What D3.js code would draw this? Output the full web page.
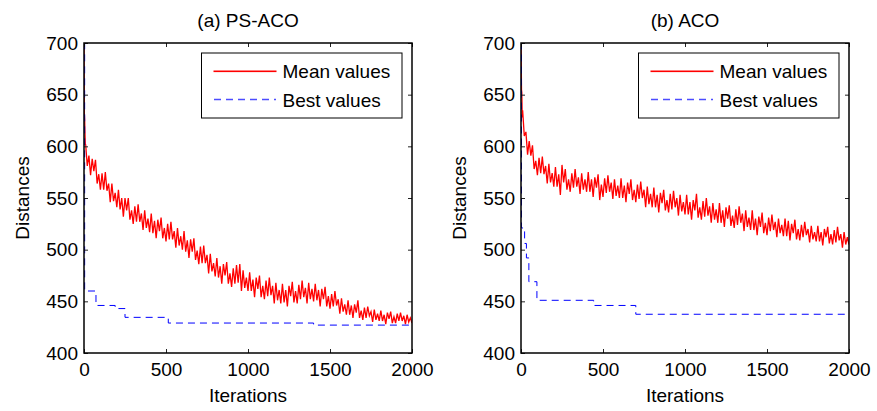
<!DOCTYPE html>
<html>
<head>
<meta charset="utf-8">
<script src="https://cdn.jsdelivr.net/npm/d3@7"></script>
<style>
  body { margin: 0; background: #fff; }
  svg { display: block; }
</style>
</head>
<body>
<script>
// Data

var xTicks = [0, 500, 1000, 1500, 2000];
var yTicks = [400, 450, 500, 550, 600, 650, 700];
var meanStep = 10; // mean values are listed every 10 iterations, from 10 to 2000

// (a) PS-ACO
var headItersA = [0, 1, 2, 4, 6, 8];
var headMeanA = [700, 662, 632, 626, 612, 601];
var meanA = [
  602, 581, 591, 572, 588, 576, 587, 564, 573, 558,
  574, 558, 575, 557, 564, 546, 564, 547, 555, 541,
  558, 539, 550, 532, 550, 538, 550, 529, 538, 525,
  542, 527, 544, 527, 535, 519, 538, 521, 530, 517,
  535, 516, 528, 511, 529, 518, 531, 511, 521, 508,
  525, 510, 527, 510, 518, 502, 521, 504, 513, 500,
  518, 498, 509, 492, 510, 498, 511, 490, 499, 486,
  503, 487, 504, 487, 495, 477, 496, 479, 487, 474,
  492, 473, 484, 467, 486, 475, 488, 467, 477, 464,
  482, 467, 485, 468, 486, 460, 480, 463, 473, 460,
  478, 460, 471, 454, 473, 462, 475, 454, 465, 452,
  470, 455, 473, 456, 465, 448, 468, 451, 461, 448,
  467, 449, 461, 445, 465, 455, 469, 449, 460, 448,
  466, 452, 470, 454, 463, 448, 468, 452, 462, 450,
  467, 451, 461, 445, 462, 452, 464, 445, 455, 443,
  457, 445, 460, 446, 452, 438, 453, 440, 447, 437,
  451, 437, 446, 434, 447, 439, 451, 434, 441, 432,
  444, 434, 445, 436, 440, 430, 442, 432, 438, 431,
  441, 431, 437, 428, 439, 433, 440, 429, 435, 429,
  438, 431, 439, 431, 436, 428, 437, 430, 434, 429
];
var bestItersA = [0, 4, 73, 190, 250, 514, 1400, 2000];
var bestA = [700, 460, 446, 443, 434.5, 429, 427, 427];

// (b) ACO
var headItersB = [0, 1, 3, 5, 7, 9];
var headMeanB = [700, 690, 655, 652, 630, 628];
var meanB = [
  635, 610, 614, 592, 605, 591, 601, 578, 586, 572,
  589, 574, 590, 573, 581, 564, 583, 565, 574, 561,
  580, 561, 573, 553, 582, 565, 578, 558, 568, 556,
  574, 560, 578, 561, 570, 554, 574, 558, 568, 556,
  575, 556, 568, 551, 570, 560, 573, 548, 563, 551,
  569, 555, 572, 556, 565, 549, 568, 552, 562, 550,
  569, 550, 562, 546, 565, 554, 568, 548, 558, 546,
  563, 549, 566, 550, 558, 541, 561, 544, 554, 541,
  560, 541, 553, 536, 555, 545, 558, 538, 548, 536,
  554, 539, 557, 541, 550, 533, 553, 537, 546, 534,
  553, 534, 546, 529, 548, 538, 554, 531, 541, 529,
  547, 532, 550, 533, 542, 526, 545, 529, 539, 526,
  545, 526, 538, 522, 541, 530, 543, 523, 533, 521,
  539, 524, 542, 526, 535, 518, 538, 522, 531, 519,
  538, 519, 530, 514, 532, 522, 536, 516, 526, 514,
  531, 518, 534, 519, 527, 512, 530, 516, 524, 513,
  530, 513, 528, 509, 525, 516, 529, 510, 520, 509,
  524, 512, 527, 514, 520, 507, 523, 510, 517, 508,
  523, 508, 517, 504, 520, 512, 522, 506, 515, 505,
  519, 507, 522, 509, 515, 502, 517, 505, 512, 505
];
var bestItersB = [0, 3, 22, 33, 48, 97, 443, 700, 2000];
var bestB = [700, 521, 506, 492, 469, 451, 446, 437.5, 437.5];

// Layout
var w = 877,
    h = 411,
    plotTop = 43,
    plotBottom = 353,
    plotW = 328,
    font = "'Liberation Sans', Arial, Helvetica, sans-serif",
    fontSize = 19;

var panels = [
  { title: '(a) PS-ACO', left: 84, headIters: headItersA, headMean: headMeanA,
    mean: meanA, bestIters: bestItersA, best: bestA },
  { title: '(b) ACO', left: 521, headIters: headItersB, headMean: headMeanB,
    mean: meanB, bestIters: bestItersB, best: bestB }
];

var svg = d3.select('body')
            .append('svg')
            .attr('width', w)
            .attr('height', h)
            .style('font-family', font);

panels.forEach(function(p, pi) {
  var xScale = d3.scaleLinear()
                 .domain([0, 2000])
                 .range([p.left, p.left + plotW]);
  var yScale = d3.scaleLinear()
                 .domain([400, 700])
                 .range([plotBottom, plotTop]);

  // mean series: a few dense early points, then one every 10 iterations
  var meanData = p.headIters.map(function(it, i) { return [it, p.headMean[i]]; })
    .concat(p.mean.map(function(v, i) { return [(i + 1) * meanStep, v]; }));
  var bestData = p.bestIters.map(function(it, i) { return [it, p.best[i]]; });

  var clipId = 'clip' + pi;
  svg.append('clipPath')
     .attr('id', clipId)
     .append('rect')
     .attr('x', p.left)
     .attr('y', plotTop)
     .attr('width', plotW)
     .attr('height', plotBottom - plotTop);

  var plot = svg.append('g').attr('clip-path', 'url(#' + clipId + ')');

  var line = d3.line()
               .x(function(d) { return xScale(d[0]); })
               .y(function(d) { return yScale(d[1]); });

  plot.append('path')
      .datum(meanData)
      .attr('fill', 'none')
      .attr('stroke', '#ff0000')
      .attr('stroke-width', 1.3)
      .attr('stroke-linejoin', 'miter')
      .attr('d', line);

  plot.append('path')
      .datum(bestData)
      .attr('fill', 'none')
      .attr('stroke', '#0000ff')
      .attr('stroke-width', 1)
      .attr('stroke-dasharray', '7,5')
      .attr('d', line.curve(d3.curveStepAfter));

  // axes, ticks point inwards on all four sides
  function styleAxis(g) {
    g.select('.domain').remove();
    g.selectAll('line').attr('stroke', '#222');
    g.selectAll('text')
     .attr('font-size', fontSize)
     .attr('font-family', font)
     .attr('fill', '#000');
  }

  svg.append('g')
     .attr('transform', 'translate(0,' + plotBottom + ')')
     .call(d3.axisBottom(xScale).tickValues(xTicks).tickFormat(d3.format('d'))
             .tickSizeInner(-4).tickSizeOuter(0).tickPadding(10))
     .call(styleAxis);
  svg.append('g')
     .attr('transform', 'translate(0,' + plotTop + ')')
     .call(d3.axisTop(xScale).tickValues(xTicks).tickSizeInner(-4).tickSizeOuter(0).tickFormat(''))
     .call(styleAxis);
  svg.append('g')
     .attr('transform', 'translate(' + p.left + ',0)')
     .call(d3.axisLeft(yScale).tickValues(yTicks).tickFormat(d3.format('d'))
             .tickSizeInner(-4).tickSizeOuter(0).tickPadding(6))
     .call(styleAxis);
  svg.append('g')
     .attr('transform', 'translate(' + (p.left + plotW) + ',0)')
     .call(d3.axisRight(yScale).tickValues(yTicks).tickSizeInner(-4).tickSizeOuter(0).tickFormat(''))
     .call(styleAxis);

  // frame
  svg.append('rect')
     .attr('x', p.left)
     .attr('y', plotTop)
     .attr('width', plotW)
     .attr('height', plotBottom - plotTop)
     .attr('fill', 'none')
     .attr('stroke', '#000')
     .attr('stroke-width', 1.5);

  // titles and labels
  svg.append('text')
     .attr('x', p.left + plotW / 2)
     .attr('y', 27)
     .attr('text-anchor', 'middle')
     .attr('font-size', fontSize)
     .text(p.title);

  svg.append('text')
     .attr('x', p.left + plotW / 2)
     .attr('y', 402)
     .attr('text-anchor', 'middle')
     .attr('font-size', fontSize)
     .text('Iterations');

  svg.append('text')
     .attr('transform', 'translate(' + (p.left - 55) + ',' + ((plotTop + plotBottom) / 2) + ') rotate(-90)')
     .attr('text-anchor', 'middle')
     .attr('font-size', fontSize)
     .text('Distances');

  // legend
  var lg = svg.append('g').attr('transform', 'translate(' + (p.left + 117.5) + ',53)');
  lg.append('rect')
    .attr('width', 200.5)
    .attr('height', 65)
    .attr('fill', '#fff')
    .attr('stroke', '#000')
    .attr('stroke-width', 1);
  lg.append('rect')
    .attr('x', 12)
    .attr('y', 17.5)
    .attr('width', 63)
    .attr('height', 1.6)
    .attr('fill', '#ff0000');
  lg.append('text')
    .attr('x', 81)
    .attr('y', 25)
    .attr('font-size', fontSize)
    .text('Mean values');
  lg.append('line')
    .attr('x1', 12.5).attr('x2', 74.5)
    .attr('y1', 46.5).attr('y2', 46.5)
    .style('stroke', '#0000ff')
    .style('stroke-width', 1.6)
    .style('stroke-opacity', 0.7)
    .style('stroke-dasharray', '7,5');
  lg.append('text')
    .attr('x', 81)
    .attr('y', 54)
    .attr('font-size', fontSize)
    .text('Best values');
});
</script>
</body>
</html>
